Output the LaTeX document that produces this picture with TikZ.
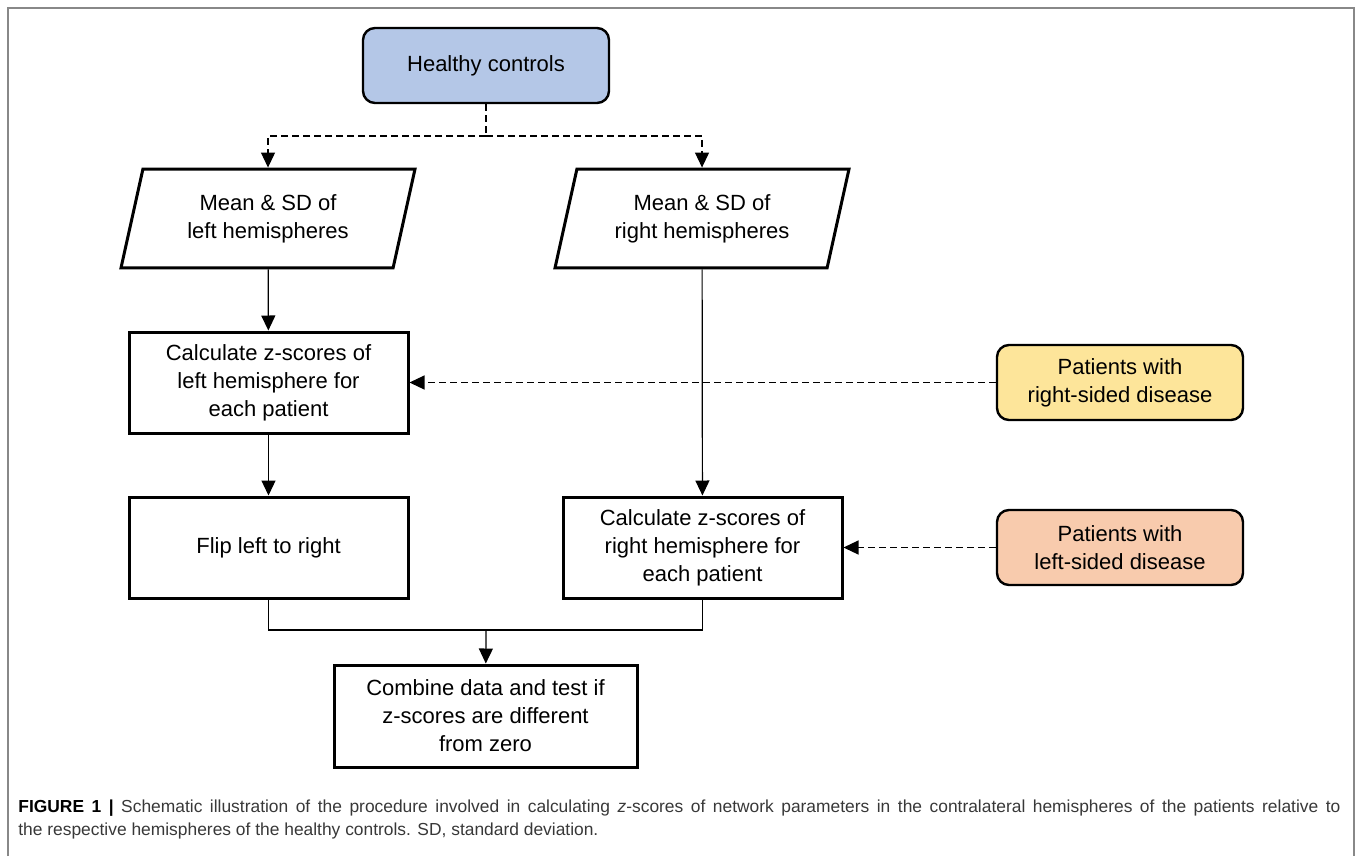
\documentclass[tikz,border=0pt]{standalone}
\usepackage{fontspec}
\setmainfont{Liberation Sans}
\usepackage{tikz}
\usetikzlibrary{shapes.geometric, arrows.meta}

\definecolor{hcblue}{RGB}{180,199,231}
\definecolor{patyellow}{RGB}{253,229,154}
\definecolor{patorange}{RGB}{248,203,173}
\definecolor{framegray}{RGB}{136,136,136}

\begin{document}
\begin{tikzpicture}[x=0.5pt, y=-0.5pt,
  every node/.style={font=\fontsize{11}{14}\selectfont, align=center, inner sep=0pt},
  stepbox/.style={rectangle, draw, line width=1.5pt, minimum width=139.5pt, minimum height=50.5pt},
  startbox/.style={rectangle, rounded corners=6pt, draw, line width=1.2pt, minimum width=123pt, minimum height=37.5pt},
  databox/.style={trapezium, draw, line width=1.5pt, trapezium left angle=77.5, trapezium right angle=102.5,
    trapezium stretches body, inner ysep=12.6pt, minimum width=147pt},
  line/.style={line width=0.6pt},
  arrow/.style={line width=0.6pt, -{Triangle[length=7.5pt, width=7pt]}},
  dasharrow/.style={arrow, dash pattern=on 3.5pt off 2pt}]

\useasboundingbox (0,0) rectangle (1358,856);

% Frame
\draw[framegray, line width=0.8pt] (8,856) -- (8,8) -- (1354,8) -- (1354,856);

% Nodes
\node[startbox, fill=hcblue] (hc) at (486,65.5) {Healthy controls};
\node[databox] (meanL) at (268,218.5) {Mean \& SD of\\left hemispheres};
\node[databox] (meanR) at (702,218.5) {Mean \& SD of\\right hemispheres};
\node[stepbox] (calcL) at (268.5,382.5) {Calculate z-scores of\\left hemisphere for\\each patient};
\node[stepbox] (flip) at (268.5,547.5) {Flip left to right};
\node[stepbox] (calcR) at (702.5,547.5) {Calculate z-scores of\\right hemisphere for\\each patient};
\node[startbox, fill=patyellow] (patR) at (1120,382.5) {Patients with\\right-sided disease};
\node[startbox, fill=patorange] (patL) at (1120,547.5) {Patients with\\left-sided disease};
\node[stepbox, minimum width=151.5pt, minimum height=51pt] (comb) at (485.5,716) {Combine data and test if\\z-scores are different\\from zero};

\coordinate (split) at (486,136);
\coordinate (merge) at (486,630);

% Edges
\draw[line, dash pattern=on 3.5pt off 2pt] (hc) -- (split);
\draw[dasharrow] (split) -| (meanL);
\draw[dasharrow] (split) -| (meanR);
\draw[arrow] (meanL) -- (calcL);
\draw[arrow] (calcL) -- (flip);
\draw[arrow] (meanR) -- (calcR);
\draw[dasharrow] (patR) -- (calcL);
\draw[dasharrow] (patL) -- (calcR);
\draw[line] (flip.south) |- (merge) -| (calcR.south);
\draw[arrow] (merge) -- (comb);

% Caption
\node[anchor=north west, align=justify, text width=661pt, font=\fontsize{8.7}{11.5}\selectfont, text=black!78] (cap) at (18,799)
  {\textbf{\color{black}FIGURE 1 |} Schematic illustration of the procedure involved in calculating \textit{z}-scores of network parameters in the contralateral hemispheres of the patients relative to\linebreak
  the respective hemispheres of the healthy controls. SD, standard deviation.};
\end{tikzpicture}
\end{document}
